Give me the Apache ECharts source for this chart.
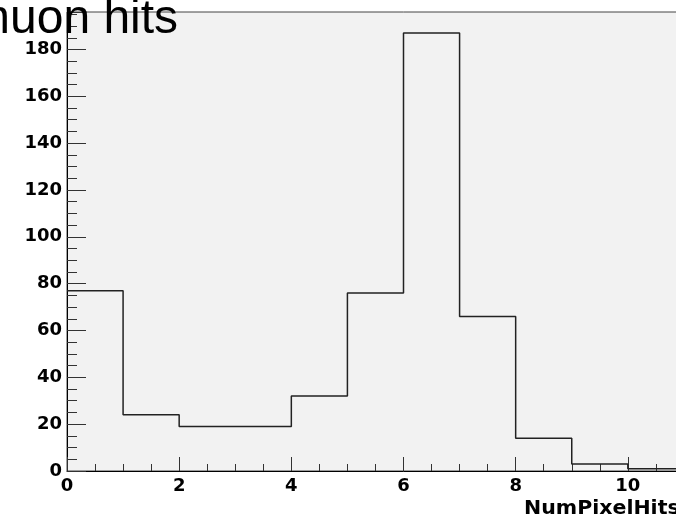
<!DOCTYPE html>
<html>
<head>
<meta charset="utf-8">
<script src="https://cdn.jsdelivr.net/npm/echarts@6/dist/echarts.min.js"></script>
<style>
  html, body { margin: 0; padding: 0; background: #fff; overflow: hidden; }
  /* the plot runs past the right edge of the window, as in the original picture */
  #main { width: 760px; height: 518px; }
</style>
</head>
<body>
<div id="main"></div>
<script>
// histogram bins (left edges) and counts
var binLeft = [0, 1, 2, 3, 4, 5, 6, 7, 8, 9, 10];
var counts = [77, 24, 19, 19, 32, 76, 187, 66, 14, 3, 1];
var binWidth = 1;
var titleText = 'muon hits';
var xTitle = 'NumPixelHits';

var stepData = binLeft.map(function (x, i) { return [x, counts[i]]; });
// close the last bin
stepData.push([binLeft[binLeft.length - 1] + binWidth, counts[counts.length - 1]]);

var labelFont = { color: '#000', fontFamily: 'DejaVu Sans', fontWeight: 'bold', fontSize: 18 };

var myChart = echarts.init(document.getElementById('main'), null, { renderer: 'canvas' });

var option = {
  backgroundColor: '#fff',
  animation: false,
  grid: {
    left: 67, top: 12, bottom: 47, right: 20,
    show: true, backgroundColor: '#f2f2f2', borderColor: '#444', borderWidth: 1
  },
  xAxis: {
    type: 'value', min: 0, max: 12, interval: 2,
    axisLine: { show: true, onZero: false, lineStyle: { color: '#000', width: 1 } },
    axisTick: { show: true, inside: true, length: 14, lineStyle: { color: '#333' } },
    minorTick: { show: true, splitNumber: 4, length: 7, lineStyle: { color: '#333' } },
    splitLine: { show: false },
    axisLabel: Object.assign({ margin: 6, showMaxLabel: false }, labelFont)
  },
  yAxis: {
    type: 'value', min: 0, max: 196, interval: 20,
    axisLine: { show: true, lineStyle: { color: '#000', width: 1 } },
    axisTick: { show: true, inside: true, length: 19, lineStyle: { color: '#333' } },
    minorTick: { show: true, splitNumber: 4, length: 10, lineStyle: { color: '#333' } },
    splitLine: { show: false },
    axisLabel: Object.assign({ margin: 5, showMaxLabel: false }, labelFont)
  },
  graphic: [
    {
      type: 'text', x: -30, y: 20,
      style: {
        text: titleText, fill: '#000', fontFamily: 'Liberation Sans', fontSize: 48,
        verticalAlign: 'middle', align: 'left'
      },
      z: 100
    },
    {
      type: 'text', x: 524, y: 509, scaleX: 1.08,
      style: {
        text: xTitle, fill: '#000', fontFamily: 'DejaVu Sans', fontWeight: 'bold', fontSize: 19,
        verticalAlign: 'middle', align: 'left'
      }
    }
  ],
  series: [
    {
      type: 'line', step: 'end', data: stepData,
      showSymbol: false, symbol: 'none',
      lineStyle: { color: '#222', width: 1.5 },
      clip: true
    }
  ]
};

myChart.setOption(option);
</script>
</body>
</html>
